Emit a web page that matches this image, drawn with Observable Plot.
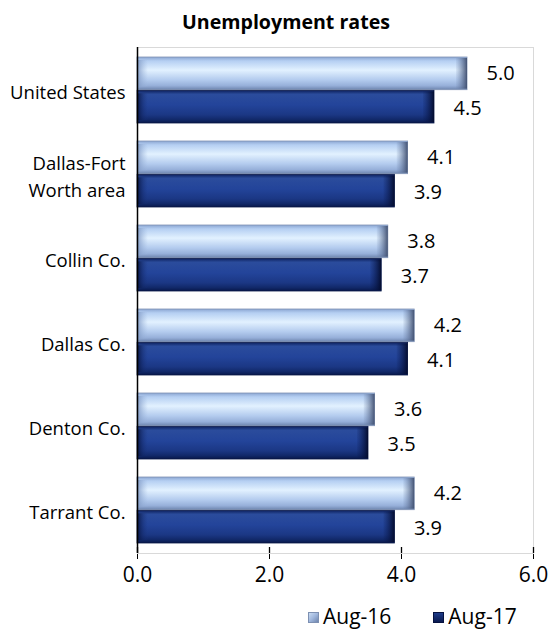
<!DOCTYPE html>
<html><head><meta charset="utf-8">
<script src="https://cdn.jsdelivr.net/npm/d3@7"></script>
<script src="https://cdn.jsdelivr.net/npm/@observablehq/plot@0.6"></script>
<style>
body{margin:0;background:#fff;font-family:"Open Sans",sans-serif;color:#000;}
#wrap{width:550px;}
#title{height:40px;line-height:44px;text-align:center;padding-left:22px;box-sizing:border-box;font-weight:bold;font-size:19.6px;}
#chart svg{display:block;}
#legend{height:46px;display:flex;align-items:center;font-size:21px;line-height:22px;padding-left:308px;box-sizing:border-box;white-space:nowrap;}
.item{display:flex;align-items:center;flex-shrink:0;white-space:nowrap;}
.item + .item{margin-left:42px;}
.sw{display:inline-block;width:11px;height:11px;margin-right:4px;margin-top:2px;box-sizing:border-box;flex-shrink:0;}
</style></head><body>
<div id="wrap">
<div id="title">Unemployment rates</div>
<div id="chart"></div>
<div id="legend"></div>
</div>
<script>
const categories = ["United States", "Dallas-Fort\nWorth area", "Collin Co.", "Dallas Co.", "Denton Co.", "Tarrant Co."];
const aug16 = [5.0, 4.1, 3.8, 4.2, 3.6, 4.2];
const aug17 = [4.5, 3.9, 3.7, 4.1, 3.5, 3.9];
const seriesNames = ["Aug-16", "Aug-17"];
const xTicks = [0, 2, 4, 6];

const rows16 = categories.map((c, i) => ({category: c, value: aug16[i]}));
const rows17 = categories.map((c, i) => ({category: c, value: aug17[i]}));

const half = 33.3;
const fmt = d => d.toFixed(1);

const svg = Plot.plot({
  width: 550,
  height: 553,
  marginTop: 7,
  marginBottom: 40,
  marginLeft: 137,
  marginRight: 17,
  style: {fontFamily: "'Open Sans', sans-serif", fontSize: "21px", color: "#000", background: "#fff"},
  x: {domain: [0, 6], ticks: xTicks, tickFormat: fmt, tickSize: 6, tickPadding: 8, line: true, label: null},
  y: {domain: categories, paddingInner: 0.21, paddingOuter: 0.105, axis: null},
  marks: [
    Plot.frame({stroke: "#d9d9d9"}),
    // Aug-16 bars
    Plot.rectX(rows16, {x1: 0, x2: "value", y: "category", insetBottom: half, fill: "url(#g16)", stroke: "#8093b5", strokeWidth: 0.8}),
    Plot.rectX(rows16, {x1: 0, x2: 0, y: "category", insetBottom: half + 3, insetTop: 3, insetRight: -11, fill: "url(#c16L)"}),
    Plot.rectX(rows16, {x1: "value", x2: "value", y: "category", insetBottom: half + 1, insetTop: 1, insetLeft: -11, fill: "url(#c16R)"}),
    // Aug-17 bars
    Plot.rectX(rows17, {x1: 0, x2: "value", y: "category", insetTop: half, fill: "url(#g17)", stroke: "#081848", strokeWidth: 0.8}),
    Plot.rectX(rows17, {x1: 0, x2: 0, y: "category", insetTop: half + 3, insetBottom: 3, insetRight: -11, fill: "url(#c17L)"}),
    Plot.rectX(rows17, {x1: "value", x2: "value", y: "category", insetTop: half + 1, insetBottom: 1, insetLeft: -11, fill: "url(#c17R)"}),
    // value labels
    Plot.text(rows16, {x: "value", y: "category", text: d => fmt(d.value), dx: 19, dy: -half / 2, textAnchor: "start", fontSize: 20, fill: "#000"}),
    Plot.text(rows17, {x: "value", y: "category", text: d => fmt(d.value), dx: 19, dy: half / 2 + 1, textAnchor: "start", fontSize: 20, fill: "#000"}),
    // category labels
    Plot.text(categories, {y: d => d, text: d => d, frameAnchor: "left", textAnchor: "end", dx: -12, fontSize: 18.5, lineHeight: 1.5, fill: "#000"}),
    // axis lines and upward tick halves
    Plot.ruleX([0], {stroke: "#000", strokeWidth: 1.5}),
    Plot.ruleX(xTicks, {stroke: "#000", strokeWidth: 1.3, insetTop: 500})
  ]
});

d3.select(svg).insert("defs", ":first-child").html(`
  <linearGradient id="g16" x1="0" y1="0" x2="0" y2="1">
    <stop offset="0" stop-color="#8ba6d2"/>
    <stop offset="0.12" stop-color="#b5cff2"/>
    <stop offset="0.4" stop-color="#e2f1ff"/>
    <stop offset="0.7" stop-color="#b3cbee"/>
    <stop offset="0.88" stop-color="#96afd9"/>
    <stop offset="1" stop-color="#6d84ad"/>
  </linearGradient>
  <linearGradient id="c16L" x1="0" y1="0" x2="1" y2="0">
    <stop offset="0" stop-color="#7e97c2" stop-opacity="0.9"/>
    <stop offset="1" stop-color="#9fb8de" stop-opacity="0"/>
  </linearGradient>
  <linearGradient id="c16R" x1="0" y1="0" x2="1" y2="0">
    <stop offset="0" stop-color="#6a7fa6" stop-opacity="0.1"/>
    <stop offset="1" stop-color="#3f4e6e" stop-opacity="0.95"/>
  </linearGradient>
  <linearGradient id="g17" x1="0" y1="0" x2="0" y2="1">
    <stop offset="0" stop-color="#0c1f5c"/>
    <stop offset="0.12" stop-color="#2b4c9c"/>
    <stop offset="0.45" stop-color="#23449a"/>
    <stop offset="0.75" stop-color="#1b3784"/>
    <stop offset="0.9" stop-color="#112868"/>
    <stop offset="1" stop-color="#08174a"/>
  </linearGradient>
  <linearGradient id="c17L" x1="0" y1="0" x2="1" y2="0">
    <stop offset="0" stop-color="#06123c" stop-opacity="0.9"/>
    <stop offset="1" stop-color="#1a3580" stop-opacity="0"/>
  </linearGradient>
  <linearGradient id="c17R" x1="0" y1="0" x2="1" y2="0">
    <stop offset="0" stop-color="#0a1a50" stop-opacity="0.1"/>
    <stop offset="1" stop-color="#030b2c" stop-opacity="0.95"/>
  </linearGradient>
`);
document.getElementById("chart").appendChild(svg);

const swatchStyles = {
  "Aug-16": "background:linear-gradient(135deg,#c9dcf3 0%,#9fb6dc 50%,#6f86ae 100%);border:1px solid #7d90b2;",
  "Aug-17": "background:linear-gradient(180deg,#1f3c8a,#0a1a50);border:1px solid #061240;"
};
const legend = document.getElementById("legend");
seriesNames.forEach(name => {
  const item = document.createElement("div");
  item.className = "item";
  const sw = document.createElement("span");
  sw.className = "sw";
  sw.style.cssText = swatchStyles[name];
  const label = document.createElement("span");
  label.textContent = name;
  item.appendChild(sw);
  item.appendChild(label);
  legend.appendChild(item);
});
</script>
</body></html>
